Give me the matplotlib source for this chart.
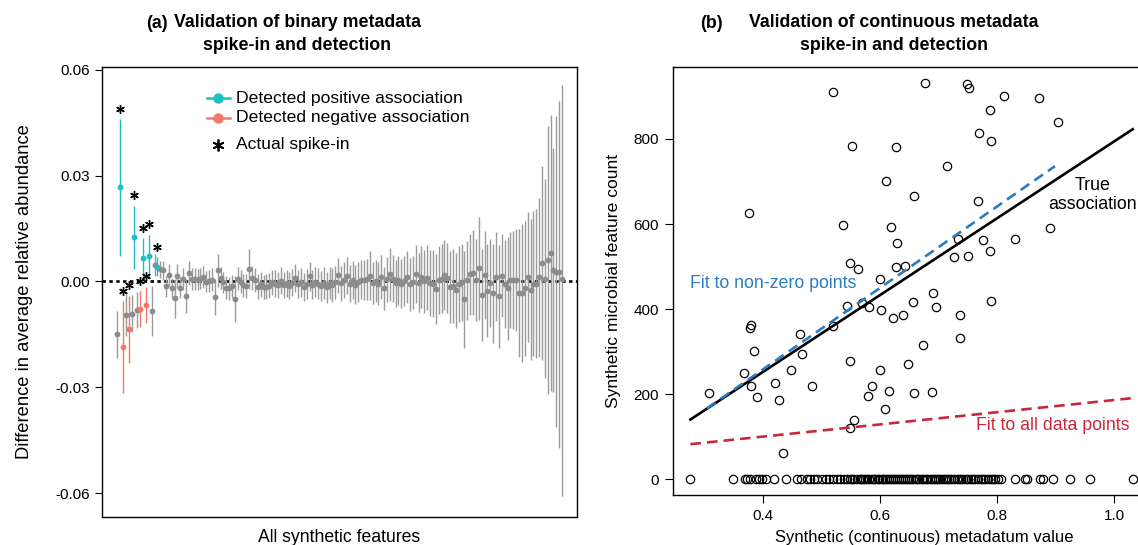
import numpy as np
import matplotlib.pyplot as plt

plt.rcParams['font.family'] = ['Liberation Sans', 'DejaVu Sans']

# ---------------- panel (a): binary metadata ----------------
# difference in mean relative abundance and CI half-width, in units of 1e-3
diff_mean = np.array([
    -15.0, 26.7, -18.6, -9.5, -13.5, -9.1, 12.5, -8.1, -7.8, 6.5, -6.7, 7.2, -8.4, 4.6, 4.2, 3.4, 3.1,
    -1.4, 1.8, -2.0, -4.8, 1.5, -1.8, 0.8, -4.2, 2.5, 0.7, 0.8, 0.5, 0.8, 1.3, -0.1, 0.0, 0.5, -4.4,
    3.1, 1.0, -0.3, -1.8, -2.0, -1.4, -5.0, 0.8, -0.1, -1.1, -1.4, 3.5, 1.0, 0.4, -1.5,
    -0.8, -1.7, -1.5, -1.2, -0.3, -0.6, -1.0, 0.2, -0.9, -0.5, -1.2, -0.4, 1.0, -0.8, -0.3, -1.6,
    -0.7, 1.5, -0.9, -0.2, -0.6, -1.3, -0.4, -1.6, -0.5, -1.0, -0.3, 1.7,
    -0.5, 0.3, 1.6, -0.6, 0.4, -0.9, -0.2, 0.5, 0.3, 0.6, 1.6, -0.4, 0.2, -0.7, 1.2, -2.0, 0.6, 2.0,
    0.8, -0.5, 0.3, -0.6, 0.1, 1.2, -0.8, -0.3, 2.0, -0.4,
    1.3, 0.0, 1.0, -0.5, -0.6, -2.2, 0.4, 0.8, 1.8, 1.0, -1.7, -1.3, -2.5, -0.8, -0.3, -5.1, 0.3,
    2.0, 2.5, 0.5, 3.7, -3.9, 1.8, -2.7, -0.5, -3.4, 1.3, -4.2, 1.6,
    -0.7, -2.0, 0.4, 0.4, 0.4, -3.2, -3.2, -2.0, 1.2, -2.4, -0.6, -0.6, 1.2, 5.2, 0.8, 6.2, 8.1,
    3.2, 2.8, 2.8, 0.7,
]) * 1e-3
diff_half = np.array([
    6.7, 19.4, 13.1, 6.0, 9.5, 5.2, 9.0, 5.0, 5.0, 5.7, 5.2, 6.1, 7.1, 3.2, 2.8, 2.5, 2.6,
    3.0, 3.2, 3.0, 5.5, 3.3, 3.0, 3.1, 4.8, 3.4, 3.0, 3.1, 2.9, 3.0, 3.2, 3.0, 3.1, 3.2, 5.2,
    4.8, 3.2, 3.1, 3.3, 3.2, 3.3, 6.6, 3.2, 3.3, 3.2, 3.4, 5.6, 3.4, 3.3, 3.5,
    3.5, 3.4, 3.6, 3.5, 3.6, 3.7, 3.6, 3.8, 3.7, 3.8, 3.9, 3.8, 4.0, 3.9, 4.1, 4.0,
    4.2, 4.1, 4.2, 4.3, 4.4, 4.3, 4.5, 4.4, 4.6, 4.7, 4.8, 5.0,
    5.0, 5.1, 5.3, 5.2, 5.4, 5.5, 5.6, 5.5, 5.7, 5.8, 7.0, 5.9, 6.0, 6.1, 6.3, 6.2, 6.4, 7.5,
    6.6, 6.7, 6.9, 7.0, 7.1, 7.3, 7.5, 7.6, 8.2, 8.4,
    8.8, 9.0, 9.2, 9.3, 9.4, 10.0, 9.6, 9.7, 10.0, 9.9, 10.2, 10.4, 10.6, 10.8, 11.0, 13.8, 11.3,
    11.5, 12.0, 11.6, 14.5, 13.0, 12.5, 13.2, 12.4, 14.0, 12.6, 14.6, 11.8,
    12.4, 14.6, 13.6, 13.8, 14.6, 18.2, 19.6, 19.1, 18.5, 20.0, 20.5, 21.1, 22.5, 27.5, 28.3, 38.0, 39.2,
    34.6, 44.1, 48.5, 55.0,
]) * 1e-3
# lower half-widths of the last few intervals (the rest are symmetric)
tail_low_half = np.array([34.6, 44.1, 50.0, 61.5]) * 1e-3
pos_detected = [2, 7, 10, 12, 15]
neg_detected = [3, 5, 9, 11]
spike_in = [2, 3, 5, 7, 9, 10, 11, 12, 15]
a_yticks = [0.06, 0.03, 0.0, -0.03, -0.06]
a_yticklabels = ['0.06', '0.03', '0.00', '-0.03', '-0.06']

# ---------------- panel (b): continuous metadata ----------------
nz_x = [0.520, 0.553, 0.627, 0.611, 0.376, 0.536, 0.619, 0.629, 0.548, 0.563, 0.627, 0.643,
        0.600, 0.543, 0.570, 0.582, 0.602, 0.622, 0.640, 0.379, 0.377, 0.520, 0.463, 0.467,
        0.385, 0.549, 0.648, 0.368, 0.448, 0.600, 0.420, 0.379, 0.484, 0.586, 0.307, 0.389,
        0.579, 0.615, 0.427, 0.609, 0.556, 0.549, 0.434,
        0.677, 0.748, 0.753, 0.812, 0.871, 0.788, 0.905, 0.769, 0.790, 0.714, 0.658, 0.767,
        0.890, 0.831, 0.733, 0.776, 0.788, 0.727, 0.750, 0.690, 0.656, 0.696, 0.790, 0.736,
        0.736, 0.673, 0.658, 0.689]
nz_y = [911, 784, 780, 701, 625, 598, 594, 555, 508, 494, 499, 502,
        471, 408, 413, 404, 398, 379, 386, 362, 355, 361, 341, 293,
        301, 277, 270, 249, 256, 256, 226, 218, 219, 218, 203, 193,
        195, 207, 187, 165, 139, 120, 62,
        931, 929, 921, 902, 897, 869, 841, 813, 796, 737, 667, 653,
        591, 565, 565, 562, 536, 522, 525, 437, 416, 405, 419, 387,
        331, 315, 202, 204]
zero_x = [0.276, 0.348, 0.369, 0.373, 0.378, 0.388, 0.394, 0.398, 0.406, 0.418, 0.440, 0.459,
          0.465, 0.475, 0.481, 0.488, 0.493, 0.501, 0.507, 0.512, 0.519, 0.527, 0.532, 0.538,
          0.544, 0.549, 0.553, 0.556, 0.561, 0.565, 0.568, 0.571, 0.575, 0.578, 0.582, 0.586,
          0.589, 0.592, 0.596, 0.599, 0.603, 0.606, 0.609, 0.612, 0.615, 0.619, 0.622, 0.626,
          0.629, 0.633, 0.636, 0.640, 0.643, 0.647, 0.650, 0.653, 0.657, 0.661, 0.664, 0.667,
          0.671, 0.674, 0.678, 0.681, 0.685, 0.689, 0.692, 0.696, 0.699, 0.703, 0.707, 0.711,
          0.714, 0.718, 0.722, 0.727, 0.731, 0.735, 0.739, 0.742, 0.747, 0.751, 0.755, 0.759,
          0.763, 0.768, 0.772, 0.776, 0.780, 0.784, 0.789, 0.793, 0.797, 0.801, 0.806, 0.831,
          0.848, 0.852, 0.874, 0.878, 0.895, 0.925, 0.959, 1.032]
true_x, true_y = [0.276, 1.032], [140, 823]
nonzero_fit_x, nonzero_fit_y = [0.304, 0.899], [166, 736]
all_fit_x, all_fit_y = [0.276, 1.029], [82, 190]

CYAN = '#1fc0c4'
SALMON = '#f4766d'
GRAY = '#8c8c8c'
BLUE = '#2a7bc0'
RED = '#c8283a'

W, H = 1138, 545
fig = plt.figure(figsize=(W / 100, H / 100), dpi=100)
ax1 = fig.add_axes([102 / W, 1 - 517 / H, 475 / W, 450 / H])
# panel (b) runs past the right edge of the image, as in the reference
ax2 = fig.add_axes([673 / W, 1 - 495 / H, 502 / W, 428 / H])

# ---- panel (a)
idx = np.arange(1, len(diff_mean) + 1)
colors = np.array([GRAY] * len(idx), dtype=object)
colors[np.array(pos_detected) - 1] = CYAN
colors[np.array(neg_detected) - 1] = SALMON
low_half = diff_half.copy()
low_half[-len(tail_low_half):] = tail_low_half

ax1.axhline(0, color='black', linestyle=(0, (1.3, 1.3)), linewidth=1.9, zorder=1)
for c in [GRAY, CYAN, SALMON]:
    m = colors == c
    ax1.errorbar(idx[m], diff_mean[m], yerr=[low_half[m], diff_half[m]], fmt='o', color=c,
                 ecolor=c if c != GRAY else '#9b9b9b', elinewidth=1.0, capsize=1.4,
                 capthick=0.9, markersize=4.2, markeredgewidth=0, zorder=3)
sp = np.array(spike_in) - 1
ax1.plot(idx[sp], diff_mean[sp] + diff_half[sp] + 0.0029, linestyle='none',
         marker=(6, 2, 0), markersize=6.2, markeredgewidth=1.0, color='black', zorder=4)

ax1.set_xlim(-4.3, 161.2)
ax1.set_ylim(-0.0668, 0.0608)
ax1.set_xticks([])
ax1.set_yticks(a_yticks)
ax1.set_yticklabels(a_yticklabels)
ax1.tick_params(axis='y', direction='out', length=5, labelsize=11)
ax1.set_ylabel('Difference in average relative abundance', fontsize=13.2, labelpad=16)
ax1.set_xlabel('All synthetic features', fontsize=12.7, labelpad=9)

# legend drawn in axes fraction
for yy, c, lab in [(0.931, CYAN, 'Detected positive association'),
                   (0.887, SALMON, 'Detected negative association')]:
    ax1.plot([0.221, 0.269], [yy, yy], color=c, lw=1.8, transform=ax1.transAxes)
    ax1.plot([0.245], [yy], 'o', color=c, ms=6.5, transform=ax1.transAxes)
    ax1.text(0.282, yy, lab, transform=ax1.transAxes, va='center', fontsize=12.6)
ax1.plot([0.245], [0.827], linestyle='none', marker=(6, 2, 0), ms=8.5, mew=1.3,
         color='black', transform=ax1.transAxes)
ax1.text(0.282, 0.827, 'Actual spike-in', transform=ax1.transAxes, va='center',
         fontsize=12.6)

# ---- panel (b)
ax2.plot(nz_x, nz_y, 'o', mfc='none', mec='black', ms=6, mew=0.9, zorder=3)
ax2.plot(zero_x, np.zeros(len(zero_x)), 'o', mfc='none', mec='black', ms=6, mew=0.9, zorder=3)
ax2.plot(true_x, true_y, color='black', lw=1.9, zorder=4)
ax2.plot(nonzero_fit_x, nonzero_fit_y, color=BLUE, lw=1.9, ls=(0, (4, 2.3)), zorder=4)
ax2.plot(all_fit_x, all_fit_y, color=RED, lw=1.9, ls=(0, (4, 2.3)), zorder=4)
ax2.text(0.276, 461, 'Fit to non-zero points', color=BLUE, fontsize=12.8, va='center')
ax2.text(1.027, 125, 'Fit to all data points', color=RED, fontsize=12.8, va='center', ha='right')
ax2.text(0.964, 668, 'True\nassociation', color='black', fontsize=12.8, va='center',
         ha='center', linespacing=1.1)

ax2.set_xlim(0.2462, 0.4 + (1175 - 763) / 585)
ax2.set_ylim(-37.6, 969.4)
ax2.set_xticks([0.4, 0.6, 0.8, 1.0])
ax2.set_xticklabels(['0.4', '0.6', '0.8', '1.0'])
ax2.set_yticks([0, 200, 400, 600, 800])
ax2.tick_params(direction='out', length=6, pad=4, labelsize=11)
ax2.set_xlabel('Synthetic (continuous) metadatum value', fontsize=12, labelpad=5)
ax2.set_ylabel('Synthetic microbial feature count', fontsize=12.6, labelpad=9)

for ax in (ax1, ax2):
    for s in ax.spines.values():
        s.set_linewidth(1.0)

# titles
fig.text(157 / W, 1 - 23 / H, '(a)', fontsize=12.8, fontweight='bold', ha='center', va='center')
fig.text(297 / W, 1 - 34 / H, 'Validation of binary metadata\nspike-in and detection',
         fontsize=12.8, fontweight='bold', ha='center', va='center', linespacing=1.45)
fig.text(711 / W, 1 - 23 / H, '(b)', fontsize=12.8, fontweight='bold', ha='center', va='center')
fig.text(894 / W, 1 - 34 / H, 'Validation of continuous metadata\nspike-in and detection',
         fontsize=12.8, fontweight='bold', ha='center', va='center', linespacing=1.45)

fig.savefig('out.png', dpi=100)
